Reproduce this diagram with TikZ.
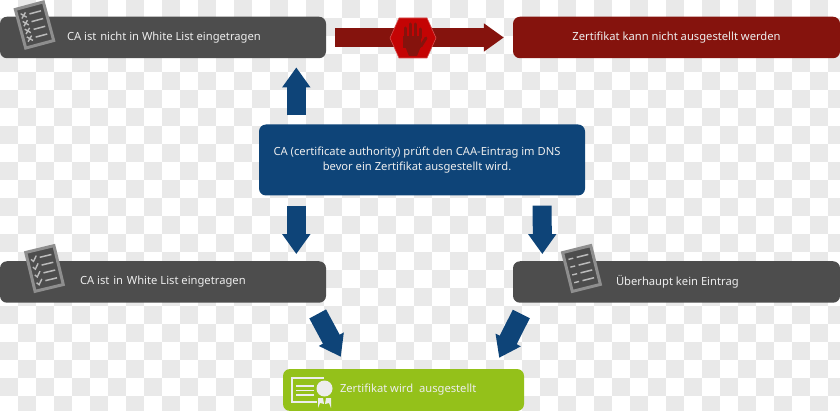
\documentclass[tikz,border=0pt]{standalone}
\usepackage{fontspec}
\setmainfont{Noto Sans}
\usetikzlibrary{calc,arrows.meta}
\definecolor{boxgrey}{HTML}{4D4D4D}
\definecolor{sheetgrey}{HTML}{8E8E8E}
\definecolor{boxred}{HTML}{85130D}
\definecolor{stopred}{HTML}{C40404}
\definecolor{boxblue}{HTML}{0E4478}
\definecolor{boxgreen}{HTML}{94C11A}
\definecolor{checker}{HTML}{E9E9E9}
\begin{document}
\begin{tikzpicture}[x=1pt,y=-1pt,
  box/.style={rectangle,rounded corners=7pt,minimum height=41.5pt,inner sep=0pt},
  boxtext/.style={text=white!93!black,align=center,inner sep=0pt,font=\fontsize{11.2}{15.5}\selectfont},
  bigarrow/.style={boxblue,line width=19pt,-{Triangle[length=20pt,width=27pt]}},
  sheet/.pic={
    \draw [sheetgrey,fill=boxgrey,line width=3pt] (-14.5,-20) rectangle (14.5,20);
    \foreach \rowy in {-12,-4,4,12} {
      \draw [sheetgrey!60!white,line width=1.5pt] (-2,\rowy) -- (10,\rowy);
      \begin{scope}[shift={(-8,\rowy)},sheetgrey!60!white,line width=1.4pt]
        #1
      \end{scope}
    }
  }]
\useasboundingbox (0,0) rectangle (840,411);
\foreach \col in {0,...,46} {
  \foreach \row in {0,...,22} {
    \pgfmathtruncatemacro{\odd}{mod(\col+\row,2)}
    \ifnum\odd=1
      \fill [checker] (18*\col,18*\row) rectangle ++(18,18);
    \fi
  }
}
\node [box,fill=boxgrey,minimum width=326pt] (NotListed) at (163,37.5) {};
\node [box,fill=boxred,minimum width=327pt] (Refused) at (676.5,37.5) {};
\node [box,fill=boxblue,minimum width=326pt,minimum height=71pt] (CheckCaa) at (422,160) {};
\node [box,fill=boxgrey,minimum width=326pt] (Listed) at (163,282) {};
\node [box,fill=boxgrey,minimum width=327pt] (NoEntry) at (676.5,282) {};
\node [box,fill=boxgreen,minimum width=241pt,minimum height=42pt] (Issued) at (403.5,390) {};
\node [boxtext,anchor=west] (NotListedText) at ($(NotListed.west)+(67,0.5)$) {CA ist\ \kern-2pt\ nicht in White List eingetragen};
\node [boxtext] (RefusedText) at ($(Refused.center)+(0,0.5)$) {Zertifikat kann nicht ausgestellt werden};
\node [boxtext] (CheckCaaText) at ($(CheckCaa.center)+(-5,0)$) {CA (certificate authority) prüft den CAA-Eintrag im DNS\\bevor ein Zertifikat ausgestellt wird.};
\node [boxtext,anchor=west] (ListedText) at ($(Listed.west)+(80,0)$) {CA ist\ \kern-2pt\ in\ \kern-2pt\ White List eingetragen};
\node [boxtext,anchor=west] (NoEntryText) at ($(NoEntry.west)+(103,0)$) {Überhaupt kein Eintrag};
\node [boxtext,anchor=west] (IssuedText) at ($(Issued.west)+(57,0)$) {Zertifikat wird\ \ ausgestellt};
\draw [bigarrow] ($(CheckCaa.north west)+(37.5,-9)$) -- ($(NotListed.south west)+(296.5,9)$);
\draw [bigarrow] ($(CheckCaa.south west)+(37.5,10)$) -- ($(Listed.north west)+(296.5,-7)$);
\draw [bigarrow] ($(CheckCaa.south east)+(-43,10)$) -- ($(NoEntry.north west)+(29.5,-7)$);
\draw [bigarrow] ($(Listed.south east)+(-8.5,11)$) -- ($(Issued.north west)+(58,-12)$);
\draw [bigarrow] ($(NoEntry.south west)+(8.5,11)$) -- ($(Issued.north east)+(-25,-11)$);
\draw [bigarrow,boxred] ($(NotListed.east)+(9,0)$) -- ($(Refused.west)+(-9,0)$);
% stop sign
\draw [stopred!70!white,fill=stopred,line width=.6pt] (390,38) -- (399,18) -- (427,18) -- (436,38) -- (427,58) -- (399,58) -- cycle;
\fill [boxred] (403,36) rectangle (421,48);
\fill [boxred] (405,46) -- (421,46) -- (417,56) -- (409,56) -- cycle;
\draw [boxred,line width=3pt,line cap=round] (405,38) -- (405,28) (410,38) -- (410,24) (415,38) -- (415,24) (420,38) -- (420,29);
\draw [boxred,line width=3pt,line cap=round] (421,46) -- (426,38);
% sheets
\pic [rotate=15] at (34.5,25) {sheet={\draw (-2.5,-2.5) -- (2.5,2.5) (-2.5,2.5) -- (2.5,-2.5);}};
\pic [rotate=13.5] at (44.5,268.5) {sheet={\draw (-3,0) -- (-1,2.5) -- (3,-2.5);}};
\pic [rotate=14] at (581.5,268.5) {sheet={\draw (-2.5,0) -- (2.5,0);}};
% certificate
\draw [white!93!black,line width=2pt] (324,377.5) -- (291.5,377.5) -- (291.5,401.5) -- (317,401.5);
\draw [white!93!black,line width=1.8pt] (296,386) -- (314,386) (296,390.5) -- (314,390.5) (296,395) -- (314,395);
\fill [white!93!black] (318,398) -- (323,398) -- (324,404) -- (320,403) -- (318,408) -- cycle;
\fill [white!93!black] (331,398) -- (326,398) -- (325,404) -- (329,403) -- (331,408) -- cycle;
\fill [white!93!black] (324.5,388.5) circle (8);
\end{tikzpicture}
\end{document}
